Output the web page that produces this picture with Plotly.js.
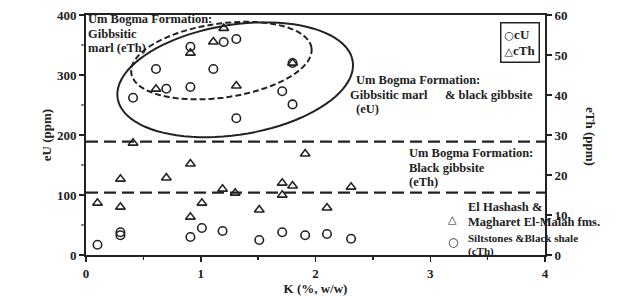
<!DOCTYPE html>
<html><head><meta charset="utf-8">
<script src="https://cdn.plot.ly/plotly-3.0.1.min.js"></script>
<style>html,body{margin:0;padding:0;background:#fff}#c{width:624px;height:296px}</style>
</head><body><div id="c"></div>
<script>
// cU (left axis, ppm)
const cuK = [0.41,0.61,0.70,0.91,0.91,1.11,1.20,1.31,1.31,1.71,1.80,1.80,
             0.10,0.30,0.30,0.91,1.01,1.19,1.51,1.71,1.91,2.10,2.31];
const cuVal = [262,310,277,280,347,310,355,360,228,273,320,251,
               17,38,33,30,45,40,25,38,33,35,27];
// cTh (right axis, ppm)
const cthK = [0.61,0.91,1.11,1.20,1.31,1.80,
              0.10,0.30,0.30,0.41,0.70,0.91,0.91,1.01,1.19,1.30,1.51,1.71,1.71,1.80,1.91,2.10,2.31];
const cthVal = [41.5,50.5,53.3,56.7,42.3,48,
                13,19,12,28,19.3,22.8,9.5,13,16.5,15.5,11.3,18,15,17.3,25.3,11.8,17];
const seriesNames = ['cU','cTh'];
const xTicks = [0,1,2,3,4];
const yTicks = [0,100,200,300,400];
const y2Ticks = [0,10,20,30,40,50,60];
const refLines = [189,104]; // dashed boundaries (eU ppm)

const L=86, R=79, T=15, B=41, W=624, H=296;
const pw=W-L-R, ph=H-T-B;
const sx = pw/4, sy = ph/400;
const ink = '#222';
const F = (s)=>({family:'Liberation Serif, Times New Roman, serif', size:s, color:ink, weight:'bold'});

function ellipsePath(cK,cU,a,b,deg){
  const t=deg*Math.PI/180; let d='';
  for(let i=0;i<=90;i++){
    const f=2*Math.PI*i/90;
    const px=a*Math.cos(f)*Math.cos(t)-b*Math.sin(f)*Math.sin(t);
    const py=a*Math.cos(f)*Math.sin(t)+b*Math.sin(f)*Math.cos(t);
    d+=(i?'L':'M')+(cK+px/sx).toFixed(4)+','+(cU+py/sy).toFixed(2);
  }
  return d+'Z';
}
const P=(px,py)=>({x:(px-L)/pw, y:(H-B-py)/ph});
function ann(text,px,py,size,extra){
  const p=P(px,py);
  return Object.assign({text, x:p.x, y:p.y, xref:'paper', yref:'paper', xanchor:'left', yanchor:'middle',
    showarrow:false, font:F(size||13)}, extra||{});
}
const sym = (g)=>'<span style="font-family:DejaVu Sans;font-size:11px">'+g+'</span>';

const traces=[
  {x:cuK, y:cuVal, name:seriesNames[0], type:'scatter', mode:'markers', yaxis:'y',
   marker:{symbol:'circle-open', size:8.5, color:ink, line:{width:1.6, color:ink}}},
  {x:cthK, y:cthVal, name:seriesNames[1], type:'scatter', mode:'markers', yaxis:'y2',
   marker:{symbol:'triangle-up-open', size:8.5, color:ink, line:{width:1.6, color:ink}}}
];

const shapes=[
  ...refLines.map(v=>({type:'line', xref:'paper', x0:0, x1:1, yref:'y', y0:v, y1:v,
    line:{color:ink, width:2.2, dash:'12px,6px'}})),
  {type:'path', xref:'x', yref:'y', path:ellipsePath(1.30,292,119,55,9), line:{color:ink, width:2}},
  {type:'path', xref:'x', yref:'y', path:ellipsePath(1.18,324,91,37,8), line:{color:ink, width:2, dash:'6px,3px'}}
];

const legendPos = P(540,22);
const annotations=[
  {text: sym('○')+seriesNames[0]+'<br>'+sym('△')+seriesNames[1], x:legendPos.x, y:legendPos.y,
   xref:'paper', yref:'paper', xanchor:'right', yanchor:'top', align:'left', showarrow:false,
   font:F(13), bordercolor:ink, borderwidth:1.5, borderpad:3, bgcolor:'#fff'},
  ann('Um Bogma Formation:',86,19,12.5),
  ann('Gibbsitic',86,34,12.5),
  ann('marl (eTh)',86,48,12.5),
  ann('Um Bogma Formation:',354,80,12.5),
  ann('Gibbsitic marl',348,95,12.5),
  ann('&amp; black gibbsite',443,95,12.5),
  ann('(eU)',354,109,12.5),
  ann('Um Bogma Formation:',407,153,12.5),
  ann('Black gibbsite',407,168,12.5),
  ann('(eTh)',407,182,12.5),
  ann('El Hashash &amp;',466,207,12.5),
  ann('Magharet El-Malah fms.',466,222,12.5),
  ann('Siltstones &amp;Black shale',466,238,11),
  ann('(cTh)',466,251,11),
  ann('△',446,219,10,{font:{family:'DejaVu Sans',size:11,color:ink,weight:'bold'}}),
  ann('○',446,242,10,{font:{family:'DejaVu Sans',size:12,color:ink,weight:'bold'}}),
  Object.assign(ann('eTh (ppm)',591,136,13),{xanchor:'center', textangle:90})
];

const layout={
  width:W, height:H, margin:{l:L,r:R,t:T,b:B}, paper_bgcolor:'#fff', plot_bgcolor:'#fff',
  showlegend:false,
  xaxis:{range:[0,4], tickvals:xTicks, ticktext:xTicks.map(String), ticks:'outside', ticklen:5, tickwidth:1.5,
    tickcolor:ink, showline:true, linewidth:2, linecolor:ink, mirror:true, showgrid:false, zeroline:false,
    tickfont:F(13), minor:{tickvals:[0.5,1.5,2.5,3.5], ticks:'outside', ticklen:3, tickcolor:ink},
    title:{text:'K (%, w/w)', font:F(13), standoff:0}},
  yaxis:{range:[0,400], tickvals:yTicks, ticktext:yTicks.map(String), ticks:'outside', ticklen:5, tickwidth:1.5,
    tickcolor:ink, showline:true, linewidth:2, linecolor:ink, showgrid:false, zeroline:false,
    tickfont:F(13), minor:{tickvals:[50,150,250,350], ticks:'outside', ticklen:3, tickcolor:'#888'},
    title:{text:'eU (ppm)', font:F(13), standoff:2}},
  yaxis2:{range:[0,60], overlaying:'y', side:'right', tickvals:y2Ticks, ticktext:y2Ticks.map(String),
    ticks:'outside', ticklen:5, tickwidth:1.5, tickcolor:ink, showline:true, linewidth:2, linecolor:ink,
    showgrid:false, zeroline:false, tickfont:F(13)},
  shapes, annotations
};
Plotly.newPlot('c', traces, layout, {displayModeBar:false, staticPlot:true});
</script></body></html>
